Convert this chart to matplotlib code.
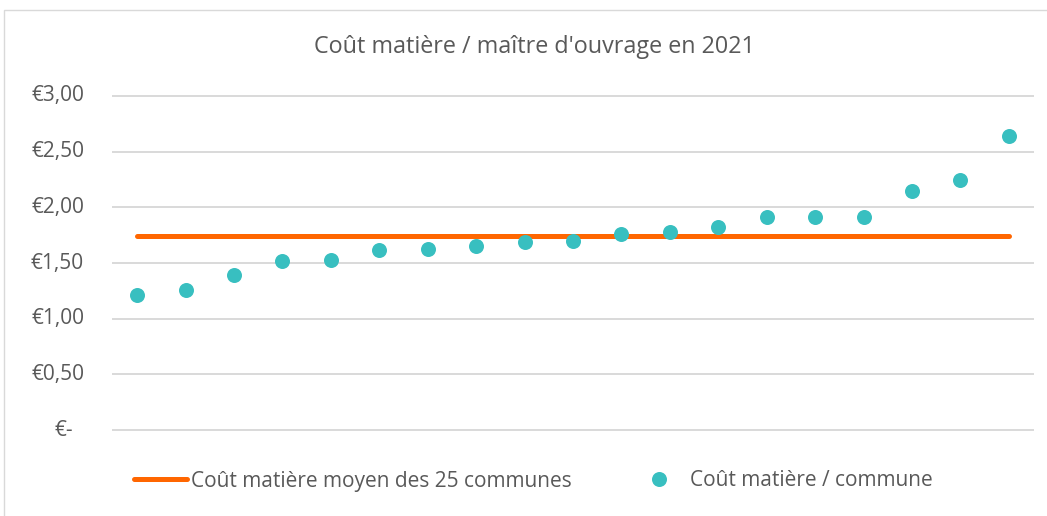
import matplotlib
matplotlib.use('Agg')
import matplotlib.pyplot as plt
import matplotlib.patches as patches
import matplotlib.transforms as mtransforms
import numpy as np

# data (cost per commune, sorted)
couts_communes = [1.21, 1.26, 1.39, 1.52, 1.53, 1.62, 1.63, 1.65, 1.69, 1.70,
                  1.76, 1.78, 1.82, 1.91, 1.91, 1.91, 2.15, 2.25, 2.64]
cout_moyen = 1.74
y_ticks = [0.0, 0.5, 1.0, 1.5, 2.0, 2.5, 3.0]
y_labels = ['€-', '€0,50', '€1,00', '€1,50', '€2,00', '€2,50', '€3,00']

titre = "Coût matière / maître d'ouvrage en 2021"
label_moyen = 'Coût matière moyen des 25 communes'
label_commune = 'Coût matière / commune'

TEXT = '#595959'
GRID = '#D9D9D9'
TEAL = '#38BFC0'
ORANGE = '#FF6600'

plt.rcParams['font.family'] = ['Open Sans', 'DejaVu Sans']

W, H = 1047, 516
fig = plt.figure(figsize=(W / 100, H / 100), dpi=100)
ax = fig.add_axes([113 / W, (H - 430) / H, 920 / W, 334 / H])

x = np.arange(len(couts_communes))
line, = ax.plot([x[0], x[-1]], [cout_moyen, cout_moyen], color=ORANGE, lw=3.6,
                solid_capstyle='round', label=label_moyen, zorder=2)
pts, = ax.plot(x, couts_communes, 'o', color=TEAL, markersize=10.8, markeredgewidth=0,
               label=label_commune, zorder=3)

ax.set_xlim(-0.5, len(couts_communes) - 0.5)
ax.set_ylim(0, 3)
ax.set_yticks(y_ticks)
ax.set_yticklabels([])
ax.set_xticks([])
ax.tick_params(axis='y', length=0)
ax.yaxis.grid(True, color=GRID, lw=1.4)
for gl in ax.get_ygridlines():
    gl.set_clip_on(False)
ax.set_axisbelow(True)
for sp in ax.spines.values():
    sp.set_visible(False)

# y labels, Excel accounting style ("€-" sits a bit further right of the edge)
trans = mtransforms.blended_transform_factory(fig.transFigure, ax.transData)
for v, lab in zip(y_ticks, y_labels):
    xr = 84 / W if lab != '€-' else 73 / W
    ax.text(xr, v, lab, transform=trans, ha='right', va='center',
            fontsize=15, color=TEXT)

fig.text(534 / W, (H - 47) / H, titre, ha='center', va='center', fontsize=16.8, color=TEXT)

leg = fig.legend(handles=[line, pts], loc='center left',
                 bbox_to_anchor=(134 / W, (H - 481) / H), ncol=2, frameon=False,
                 fontsize=15, handlelength=2.55, handletextpad=0.2, columnspacing=2.9,
                 borderpad=0, borderaxespad=0, labelcolor=TEXT)

# chart outer border
fig.patches.append(patches.Rectangle((4 / W, -0.05), 1.2, (H - 10) / H + 0.05,
                                     transform=fig.transFigure, fill=False,
                                     edgecolor=GRID, lw=1.0))

fig.savefig('out.png', dpi=100)
